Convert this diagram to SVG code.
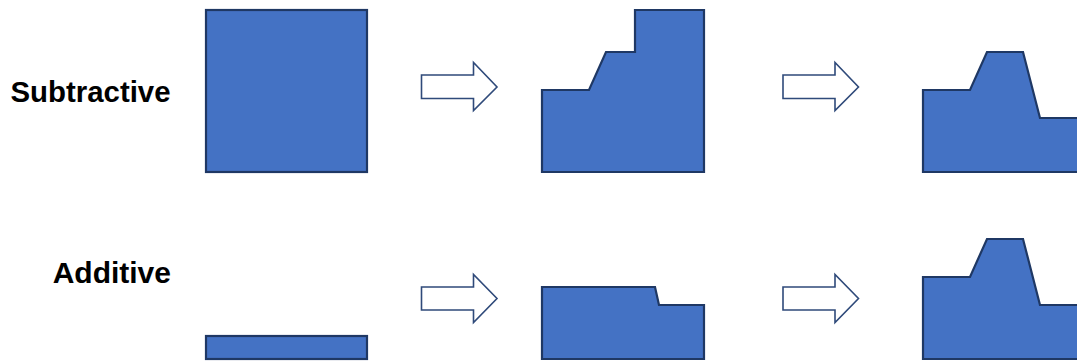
<svg xmlns="http://www.w3.org/2000/svg" width="1077" height="361" viewBox="0 0 1077 361">
  <style>
    .label { font-family: "Liberation Sans", Arial, sans-serif; font-weight: bold; font-size: 30px; fill: #000; text-anchor: end; }
    .part { fill: #4472C4; stroke: #1F3864; stroke-width: 2.2; stroke-linejoin: miter; }
    .step { fill: #FFFFFF; stroke: #2F4A7A; stroke-width: 1.6; stroke-linejoin: miter; }
  </style>
  <rect width="1077" height="361" fill="#FFFFFF"/>

  <!-- row labels -->
  <g id="label-subtractive"><text class="label" x="170.5" y="102" textLength="160" lengthAdjust="spacingAndGlyphs">Subtractive</text></g>
  <g id="label-additive"><text class="label" x="171" y="283">Additive</text></g>

  <!-- subtractive row -->
  <g id="sub-stock"><rect class="part" x="206" y="10" width="161" height="162"/></g>
  <g id="sub-rough"><polygon class="part" points="542,90 589,90 606,52 635,52 635,10 704,10 704,172 542,172"/></g>
  <g id="sub-final"><polygon class="part" points="923,90 970,90 987,52 1023,52 1040,118 1080,118 1080,172 923,172"/></g>

  <!-- additive row -->
  <g id="add-base"><rect class="part" x="206" y="336" width="161" height="23"/></g>
  <g id="add-layer"><polygon class="part" points="542,287 655,287 659,305 704,305 704,359 542,359"/></g>
  <g id="add-final"><polygon class="part" points="923,277 970,277 987,239 1023,239 1040,305 1080,305 1080,359 923,359"/></g>

  <!-- process arrows -->
  <g id="connectors">
    <polygon class="step" points="421.5,75 473.5,75 473.5,62.5 497,87 473.5,110.5 473.5,98.5 421.5,98.5"/>
    <polygon class="step" points="783,75 835,75 835,62.5 858.5,87 835,110.5 835,98.5 783,98.5"/>
    <polygon class="step" points="421.5,287 473.5,287 473.5,274.5 497,298.5 473.5,322.5 473.5,310 421.5,310"/>
    <polygon class="step" points="783,287 835,287 835,274.5 858.5,298.5 835,322.5 835,310 783,310"/>
  </g>
</svg>
